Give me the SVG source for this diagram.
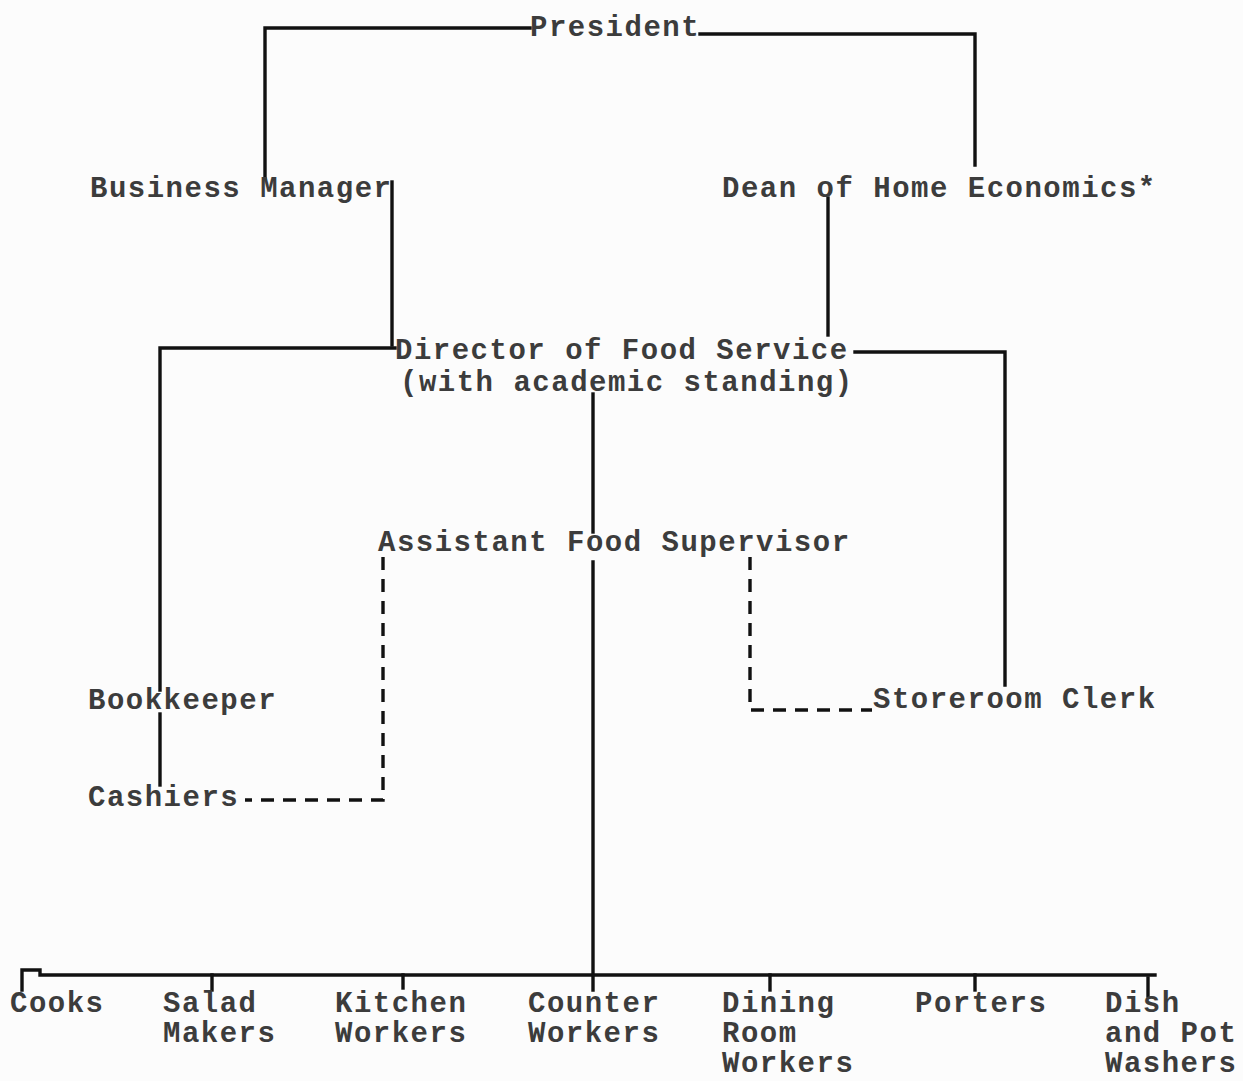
<svg xmlns="http://www.w3.org/2000/svg" width="1243" height="1081" viewBox="0 0 1243 1081">
<style>
text{font-family:"Liberation Mono","DejaVu Sans Mono",monospace;font-size:29px;letter-spacing:1.5px;font-weight:bold;fill:#3c3c3c}
.s{fill:none;stroke:#111;stroke-width:3.4;stroke-linecap:square}
.d{fill:none;stroke:#111;stroke-width:3.4;stroke-dasharray:13 9}
</style>
<rect width="1243" height="1081" fill="#fcfcfc"/>
<g id="connectors">
<path class="s" d="M530,28 H265 V178"/>
<path class="s" d="M700,34 H975 V165"/>
<path class="s" d="M392,182 V345"/>
<path class="s" d="M828,198 V335"/>
<path class="s" d="M395,348 H160 V690"/>
<path class="s" d="M160,714 V785"/>
<path class="s" d="M855,352 H1005 V685"/>
<path class="s" d="M593,394 V532"/>
<path class="s" d="M593,562 V990"/>
<path class="d" d="M383,557 V800 H245"/>
<path class="d" d="M750,557 V710 H872"/>
<path class="s" d="M22,990 V970 H40 V975 H1155"/>
<path class="s" d="M212,975 V990"/>
<path class="s" d="M403,975 V988"/>
<path class="s" d="M770,975 V990"/>
<path class="s" d="M975,975 V990"/>
<path class="s" d="M1148,978 V996"/>
</g>
<g id="president"><text x="530" y="36">President</text></g>
<g id="business-manager"><text x="90" y="197">Business Manager</text></g>
<g id="dean"><text x="722" y="197">Dean of Home Economics*</text></g>
<g id="director"><text x="395" y="359">Director of Food Service</text><text x="400" y="391">(with academic standing)</text></g>
<g id="assistant"><text x="378" y="551">Assistant Food Supervisor</text></g>
<g id="bookkeeper"><text x="88" y="709">Bookkeeper</text></g>
<g id="storeroom"><text x="873" y="708">Storeroom Clerk</text></g>
<g id="cashiers"><text x="88" y="806">Cashiers</text></g>
<g id="cooks"><text x="10" y="1012">Cooks</text></g>
<g id="salad"><text x="163" y="1012">Salad</text><text x="163" y="1042">Makers</text></g>
<g id="kitchen"><text x="335" y="1012">Kitchen</text><text x="335" y="1042">Workers</text></g>
<g id="counter"><text x="528" y="1012">Counter</text><text x="528" y="1042">Workers</text></g>
<g id="dining"><text x="722" y="1012">Dining</text><text x="722" y="1042">Room</text><text x="722" y="1072">Workers</text></g>
<g id="porters"><text x="915" y="1012">Porters</text></g>
<g id="dish"><text x="1105" y="1012">Dish</text><text x="1105" y="1042">and Pot</text><text x="1105" y="1072">Washers</text></g>
</svg>
